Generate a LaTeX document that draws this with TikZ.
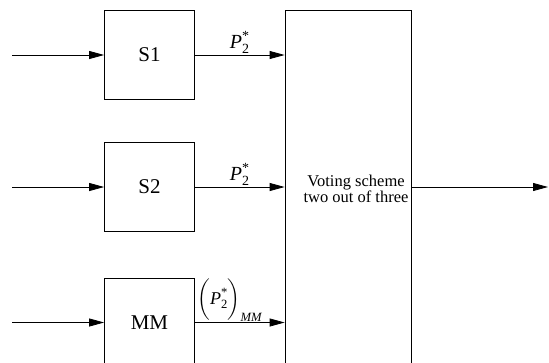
\documentclass[tikz,border=0pt]{standalone}
\usepackage{amsmath}
\usepackage{fontspec}
\setmainfont{Liberation Serif}
\usepackage{tikz}
\usetikzlibrary{arrows.meta,positioning}
\tikzstyle{block} = [rectangle, minimum width=90pt, minimum height=89pt, text centered, draw=black, line width=0.8pt, font=\fontsize{21}{24}\selectfont]
\tikzstyle{voter} = [rectangle, minimum width=126pt, minimum height=357pt, draw=black, line width=0.8pt]
\tikzstyle{votetext} = [align=center, font=\fontsize{16.5}{16.5}\selectfont]
\tikzstyle{arrow} = [line width=0.8pt, -{Triangle[length=15pt,width=8pt]}]
\tikzstyle{sig} = [font=\fontsize{20}{22}\selectfont, inner sep=1pt]

\begin{document}
\begin{tikzpicture}[x=1pt, y=-1pt]
\useasboundingbox (0,0) rectangle (549,362);

% Sensor blocks
\node (s1) [block] at (149.5,55) {S1};
\node (s2) [block] at (149.5,187) {S2};
\node (mm) [block] at (149.5,322.5) {MM};

% Voter
\node (vote) [voter] at (348,189) {};
\node (rule) [votetext] at (356,189) {Voting scheme\\two out of three};

% Free ends
\coordinate (in1) at (12,55);
\coordinate (in2) at (12,187);
\coordinate (in3) at (12,322.5);
\coordinate (out) at (548,187);

% Connections
\draw[arrow] (in1) -- (s1);
\draw[arrow] (in2) -- (s2);
\draw[arrow] (in3) -- (mm);

\draw[arrow] (s1.east) -- node[sig, above] {\textit{P}$^{\text{*}}_{\text{2}}$} (s1.east -| vote.west);
\draw[arrow] (s2.east) -- node[sig, above] {\textit{P}$^{\text{*}}_{\text{2}}$} (s2.east -| vote.west);
\draw[arrow] (mm.east) -- node[sig, above, xshift=-10pt, font=\fontsize{18}{20}\selectfont] {$\biggl(\textit{P}^{\text{*}}_{\text{2}}\biggr)_{\textit{MM}}$} (mm.east -| vote.west);

\draw[arrow] (vote.east |- out) -- (out);
\end{tikzpicture}
\end{document}
